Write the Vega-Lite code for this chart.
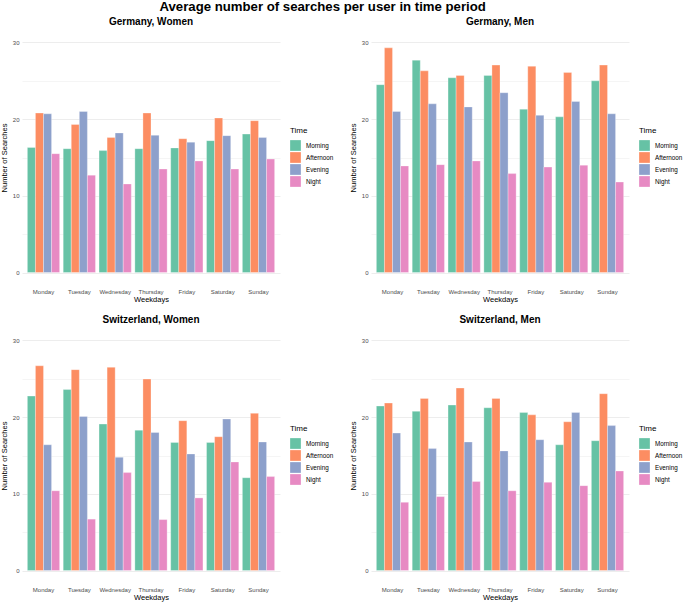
{
  "$schema": "https://vega.github.io/schema/vega-lite/v6.json",
  "background": "white",
  "padding": {"left": 0, "right": 0, "top": 0, "bottom": 2},
  "title": {"text": "Average number of searches per user in time period", "fontSize": 13.2, "fontWeight": "bold", "anchor": "middle", "frame": "bounds", "offset": 2.5, "color": "black", "dx": -19},
  "datasets": {
    "searches": [
      {"Panel": "Germany, Women", "Day": "Monday", "Time": "Morning", "Searches": 16.3},
      {"Panel": "Germany, Women", "Day": "Monday", "Time": "Afternoon", "Searches": 20.8},
      {"Panel": "Germany, Women", "Day": "Monday", "Time": "Evening", "Searches": 20.7},
      {"Panel": "Germany, Women", "Day": "Monday", "Time": "Night", "Searches": 15.5},
      {"Panel": "Germany, Women", "Day": "Tuesday", "Time": "Morning", "Searches": 16.15},
      {"Panel": "Germany, Women", "Day": "Tuesday", "Time": "Afternoon", "Searches": 19.3},
      {"Panel": "Germany, Women", "Day": "Tuesday", "Time": "Evening", "Searches": 21.0},
      {"Panel": "Germany, Women", "Day": "Tuesday", "Time": "Night", "Searches": 12.7},
      {"Panel": "Germany, Women", "Day": "Wednesday", "Time": "Morning", "Searches": 15.9},
      {"Panel": "Germany, Women", "Day": "Wednesday", "Time": "Afternoon", "Searches": 17.6},
      {"Panel": "Germany, Women", "Day": "Wednesday", "Time": "Evening", "Searches": 18.2},
      {"Panel": "Germany, Women", "Day": "Wednesday", "Time": "Night", "Searches": 11.55},
      {"Panel": "Germany, Women", "Day": "Thursday", "Time": "Morning", "Searches": 16.15},
      {"Panel": "Germany, Women", "Day": "Thursday", "Time": "Afternoon", "Searches": 20.8},
      {"Panel": "Germany, Women", "Day": "Thursday", "Time": "Evening", "Searches": 17.9},
      {"Panel": "Germany, Women", "Day": "Thursday", "Time": "Night", "Searches": 13.5},
      {"Panel": "Germany, Women", "Day": "Friday", "Time": "Morning", "Searches": 16.25},
      {"Panel": "Germany, Women", "Day": "Friday", "Time": "Afternoon", "Searches": 17.45},
      {"Panel": "Germany, Women", "Day": "Friday", "Time": "Evening", "Searches": 17.0},
      {"Panel": "Germany, Women", "Day": "Friday", "Time": "Night", "Searches": 14.55},
      {"Panel": "Germany, Women", "Day": "Saturday", "Time": "Morning", "Searches": 17.2},
      {"Panel": "Germany, Women", "Day": "Saturday", "Time": "Afternoon", "Searches": 20.15},
      {"Panel": "Germany, Women", "Day": "Saturday", "Time": "Evening", "Searches": 17.85},
      {"Panel": "Germany, Women", "Day": "Saturday", "Time": "Night", "Searches": 13.5},
      {"Panel": "Germany, Women", "Day": "Sunday", "Time": "Morning", "Searches": 18.05},
      {"Panel": "Germany, Women", "Day": "Sunday", "Time": "Afternoon", "Searches": 19.8},
      {"Panel": "Germany, Women", "Day": "Sunday", "Time": "Evening", "Searches": 17.6},
      {"Panel": "Germany, Women", "Day": "Sunday", "Time": "Night", "Searches": 14.8},

      {"Panel": "Germany, Men", "Day": "Monday", "Time": "Morning", "Searches": 24.5},
      {"Panel": "Germany, Men", "Day": "Monday", "Time": "Afternoon", "Searches": 29.3},
      {"Panel": "Germany, Men", "Day": "Monday", "Time": "Evening", "Searches": 21.0},
      {"Panel": "Germany, Men", "Day": "Monday", "Time": "Night", "Searches": 13.9},
      {"Panel": "Germany, Men", "Day": "Tuesday", "Time": "Morning", "Searches": 27.7},
      {"Panel": "Germany, Men", "Day": "Tuesday", "Time": "Afternoon", "Searches": 26.3},
      {"Panel": "Germany, Men", "Day": "Tuesday", "Time": "Evening", "Searches": 22.0},
      {"Panel": "Germany, Men", "Day": "Tuesday", "Time": "Night", "Searches": 14.07},
      {"Panel": "Germany, Men", "Day": "Wednesday", "Time": "Morning", "Searches": 25.4},
      {"Panel": "Germany, Men", "Day": "Wednesday", "Time": "Afternoon", "Searches": 25.7},
      {"Panel": "Germany, Men", "Day": "Wednesday", "Time": "Evening", "Searches": 21.6},
      {"Panel": "Germany, Men", "Day": "Wednesday", "Time": "Night", "Searches": 14.55},
      {"Panel": "Germany, Men", "Day": "Thursday", "Time": "Morning", "Searches": 25.7},
      {"Panel": "Germany, Men", "Day": "Thursday", "Time": "Afternoon", "Searches": 27.05},
      {"Panel": "Germany, Men", "Day": "Thursday", "Time": "Evening", "Searches": 23.45},
      {"Panel": "Germany, Men", "Day": "Thursday", "Time": "Night", "Searches": 12.9},
      {"Panel": "Germany, Men", "Day": "Friday", "Time": "Morning", "Searches": 21.3},
      {"Panel": "Germany, Men", "Day": "Friday", "Time": "Afternoon", "Searches": 26.9},
      {"Panel": "Germany, Men", "Day": "Friday", "Time": "Evening", "Searches": 20.5},
      {"Panel": "Germany, Men", "Day": "Friday", "Time": "Night", "Searches": 13.75},
      {"Panel": "Germany, Men", "Day": "Saturday", "Time": "Morning", "Searches": 20.3},
      {"Panel": "Germany, Men", "Day": "Saturday", "Time": "Afternoon", "Searches": 26.1},
      {"Panel": "Germany, Men", "Day": "Saturday", "Time": "Evening", "Searches": 22.3},
      {"Panel": "Germany, Men", "Day": "Saturday", "Time": "Night", "Searches": 14.0},
      {"Panel": "Germany, Men", "Day": "Sunday", "Time": "Morning", "Searches": 25.0},
      {"Panel": "Germany, Men", "Day": "Sunday", "Time": "Afternoon", "Searches": 27.05},
      {"Panel": "Germany, Men", "Day": "Sunday", "Time": "Evening", "Searches": 20.7},
      {"Panel": "Germany, Men", "Day": "Sunday", "Time": "Night", "Searches": 11.8},

      {"Panel": "Switzerland, Women", "Day": "Monday", "Time": "Morning", "Searches": 22.75},
      {"Panel": "Switzerland, Women", "Day": "Monday", "Time": "Afternoon", "Searches": 26.7},
      {"Panel": "Switzerland, Women", "Day": "Monday", "Time": "Evening", "Searches": 16.4},
      {"Panel": "Switzerland, Women", "Day": "Monday", "Time": "Night", "Searches": 10.4},
      {"Panel": "Switzerland, Women", "Day": "Tuesday", "Time": "Morning", "Searches": 23.6},
      {"Panel": "Switzerland, Women", "Day": "Tuesday", "Time": "Afternoon", "Searches": 26.2},
      {"Panel": "Switzerland, Women", "Day": "Tuesday", "Time": "Evening", "Searches": 20.1},
      {"Panel": "Switzerland, Women", "Day": "Tuesday", "Time": "Night", "Searches": 6.7},
      {"Panel": "Switzerland, Women", "Day": "Wednesday", "Time": "Morning", "Searches": 19.1},
      {"Panel": "Switzerland, Women", "Day": "Wednesday", "Time": "Afternoon", "Searches": 26.5},
      {"Panel": "Switzerland, Women", "Day": "Wednesday", "Time": "Evening", "Searches": 14.76},
      {"Panel": "Switzerland, Women", "Day": "Wednesday", "Time": "Night", "Searches": 12.77},
      {"Panel": "Switzerland, Women", "Day": "Thursday", "Time": "Morning", "Searches": 18.3},
      {"Panel": "Switzerland, Women", "Day": "Thursday", "Time": "Afternoon", "Searches": 24.97},
      {"Panel": "Switzerland, Women", "Day": "Thursday", "Time": "Evening", "Searches": 18.0},
      {"Panel": "Switzerland, Women", "Day": "Thursday", "Time": "Night", "Searches": 6.64},
      {"Panel": "Switzerland, Women", "Day": "Friday", "Time": "Morning", "Searches": 16.7},
      {"Panel": "Switzerland, Women", "Day": "Friday", "Time": "Afternoon", "Searches": 19.54},
      {"Panel": "Switzerland, Women", "Day": "Friday", "Time": "Evening", "Searches": 15.2},
      {"Panel": "Switzerland, Women", "Day": "Friday", "Time": "Night", "Searches": 9.47},
      {"Panel": "Switzerland, Women", "Day": "Saturday", "Time": "Morning", "Searches": 16.7},
      {"Panel": "Switzerland, Women", "Day": "Saturday", "Time": "Afternoon", "Searches": 17.45},
      {"Panel": "Switzerland, Women", "Day": "Saturday", "Time": "Evening", "Searches": 19.76},
      {"Panel": "Switzerland, Women", "Day": "Saturday", "Time": "Night", "Searches": 14.16},
      {"Panel": "Switzerland, Women", "Day": "Sunday", "Time": "Morning", "Searches": 12.1},
      {"Panel": "Switzerland, Women", "Day": "Sunday", "Time": "Afternoon", "Searches": 20.5},
      {"Panel": "Switzerland, Women", "Day": "Sunday", "Time": "Evening", "Searches": 16.76},
      {"Panel": "Switzerland, Women", "Day": "Sunday", "Time": "Night", "Searches": 12.25},

      {"Panel": "Switzerland, Men", "Day": "Monday", "Time": "Morning", "Searches": 21.45},
      {"Panel": "Switzerland, Men", "Day": "Monday", "Time": "Afternoon", "Searches": 21.84},
      {"Panel": "Switzerland, Men", "Day": "Monday", "Time": "Evening", "Searches": 17.93},
      {"Panel": "Switzerland, Men", "Day": "Monday", "Time": "Night", "Searches": 8.9},
      {"Panel": "Switzerland, Men", "Day": "Tuesday", "Time": "Morning", "Searches": 20.76},
      {"Panel": "Switzerland, Men", "Day": "Tuesday", "Time": "Afternoon", "Searches": 22.45},
      {"Panel": "Switzerland, Men", "Day": "Tuesday", "Time": "Evening", "Searches": 15.9},
      {"Panel": "Switzerland, Men", "Day": "Tuesday", "Time": "Night", "Searches": 9.64},
      {"Panel": "Switzerland, Men", "Day": "Wednesday", "Time": "Morning", "Searches": 21.58},
      {"Panel": "Switzerland, Men", "Day": "Wednesday", "Time": "Afternoon", "Searches": 23.8},
      {"Panel": "Switzerland, Men", "Day": "Wednesday", "Time": "Evening", "Searches": 16.76},
      {"Panel": "Switzerland, Men", "Day": "Wednesday", "Time": "Night", "Searches": 11.6},
      {"Panel": "Switzerland, Men", "Day": "Thursday", "Time": "Morning", "Searches": 21.23},
      {"Panel": "Switzerland, Men", "Day": "Thursday", "Time": "Afternoon", "Searches": 22.45},
      {"Panel": "Switzerland, Men", "Day": "Thursday", "Time": "Evening", "Searches": 15.6},
      {"Panel": "Switzerland, Men", "Day": "Thursday", "Time": "Night", "Searches": 10.4},
      {"Panel": "Switzerland, Men", "Day": "Friday", "Time": "Morning", "Searches": 20.6},
      {"Panel": "Switzerland, Men", "Day": "Friday", "Time": "Afternoon", "Searches": 20.3},
      {"Panel": "Switzerland, Men", "Day": "Friday", "Time": "Evening", "Searches": 17.06},
      {"Panel": "Switzerland, Men", "Day": "Friday", "Time": "Night", "Searches": 11.5},
      {"Panel": "Switzerland, Men", "Day": "Saturday", "Time": "Morning", "Searches": 16.4},
      {"Panel": "Switzerland, Men", "Day": "Saturday", "Time": "Afternoon", "Searches": 19.4},
      {"Panel": "Switzerland, Men", "Day": "Saturday", "Time": "Evening", "Searches": 20.6},
      {"Panel": "Switzerland, Men", "Day": "Saturday", "Time": "Night", "Searches": 11.07},
      {"Panel": "Switzerland, Men", "Day": "Sunday", "Time": "Morning", "Searches": 16.93},
      {"Panel": "Switzerland, Men", "Day": "Sunday", "Time": "Afternoon", "Searches": 23.06},
      {"Panel": "Switzerland, Men", "Day": "Sunday", "Time": "Evening", "Searches": 18.9},
      {"Panel": "Switzerland, Men", "Day": "Sunday", "Time": "Night", "Searches": 12.98}
    ]
  },
  "data": {"name": "searches"},
  "columns": 2,
  "spacing": {"row": 12, "column": 15},
  "resolve": {"scale": {"color": "independent", "x": "independent", "y": "independent"}, "legend": {"color": "independent"}},
  "concat": [
    {
      "title": {"text": "Germany, Women"},
      "width": 258, "height": 253,
      "transform": [{"filter": "datum.Panel === 'Germany, Women'"}],
      "mark": {"type": "bar", "stroke": "white", "strokeWidth": 0.3},
      "encoding": {
        "x": {"field": "Day", "type": "nominal", "sort": ["Monday", "Tuesday", "Wednesday", "Thursday", "Friday", "Saturday", "Sunday"], "scale": {"paddingInner": 0.1, "paddingOuter": 0.15}, "axis": {"title": "Weekdays"}},
        "xOffset": {"field": "Time", "type": "nominal", "sort": ["Morning", "Afternoon", "Evening", "Night"], "scale": {"paddingInner": 0, "paddingOuter": 0}},
        "y": {"field": "Searches", "type": "quantitative", "scale": {"domain": [-1.5, 31.5], "nice": false, "zero": false}, "axis": {"title": "Number of Searches", "values": [0, 5, 10, 15, 20, 25, 30], "labelExpr": "datum.value % 10 === 0 ? datum.label : ''", "gridWidth": {"expr": "datum.value % 10 === 0 ? 0.9 : 0.5"}}},
        "y2": {"datum": 0},
        "color": {"field": "Time", "type": "nominal", "sort": ["Morning", "Afternoon", "Evening", "Night"], "scale": {"domain": ["Morning", "Afternoon", "Evening", "Night"], "range": ["#66C2A5", "#FC8D62", "#8DA0CB", "#E78AC3"]}, "legend": {"title": "Time", "orient": "none", "legendX": 268, "legendY": 96}}
      }
    },
    {
      "title": {"text": "Germany, Men"},
      "width": 258, "height": 253,
      "transform": [{"filter": "datum.Panel === 'Germany, Men'"}],
      "mark": {"type": "bar", "stroke": "white", "strokeWidth": 0.3},
      "encoding": {
        "x": {"field": "Day", "type": "nominal", "sort": ["Monday", "Tuesday", "Wednesday", "Thursday", "Friday", "Saturday", "Sunday"], "scale": {"paddingInner": 0.1, "paddingOuter": 0.15}, "axis": {"title": "Weekdays"}},
        "xOffset": {"field": "Time", "type": "nominal", "sort": ["Morning", "Afternoon", "Evening", "Night"], "scale": {"paddingInner": 0, "paddingOuter": 0}},
        "y": {"field": "Searches", "type": "quantitative", "scale": {"domain": [-1.5, 31.5], "nice": false, "zero": false}, "axis": {"title": "Number of Searches", "values": [0, 5, 10, 15, 20, 25, 30], "labelExpr": "datum.value % 10 === 0 ? datum.label : ''", "gridWidth": {"expr": "datum.value % 10 === 0 ? 0.9 : 0.5"}}},
        "y2": {"datum": 0},
        "color": {"field": "Time", "type": "nominal", "sort": ["Morning", "Afternoon", "Evening", "Night"], "scale": {"domain": ["Morning", "Afternoon", "Evening", "Night"], "range": ["#66C2A5", "#FC8D62", "#8DA0CB", "#E78AC3"]}, "legend": {"title": "Time", "orient": "none", "legendX": 268, "legendY": 96}}
      }
    },
    {
      "title": {"text": "Switzerland, Women"},
      "width": 258, "height": 253,
      "transform": [{"filter": "datum.Panel === 'Switzerland, Women'"}],
      "mark": {"type": "bar", "stroke": "white", "strokeWidth": 0.3},
      "encoding": {
        "x": {"field": "Day", "type": "nominal", "sort": ["Monday", "Tuesday", "Wednesday", "Thursday", "Friday", "Saturday", "Sunday"], "scale": {"paddingInner": 0.1, "paddingOuter": 0.15}, "axis": {"title": "Weekdays"}},
        "xOffset": {"field": "Time", "type": "nominal", "sort": ["Morning", "Afternoon", "Evening", "Night"], "scale": {"paddingInner": 0, "paddingOuter": 0}},
        "y": {"field": "Searches", "type": "quantitative", "scale": {"domain": [-1.5, 31.5], "nice": false, "zero": false}, "axis": {"title": "Number of Searches", "values": [0, 5, 10, 15, 20, 25, 30], "labelExpr": "datum.value % 10 === 0 ? datum.label : ''", "gridWidth": {"expr": "datum.value % 10 === 0 ? 0.9 : 0.5"}}},
        "y2": {"datum": 0},
        "color": {"field": "Time", "type": "nominal", "sort": ["Morning", "Afternoon", "Evening", "Night"], "scale": {"domain": ["Morning", "Afternoon", "Evening", "Night"], "range": ["#66C2A5", "#FC8D62", "#8DA0CB", "#E78AC3"]}, "legend": {"title": "Time", "orient": "none", "legendX": 268, "legendY": 96}}
      }
    },
    {
      "title": {"text": "Switzerland, Men"},
      "width": 258, "height": 253,
      "transform": [{"filter": "datum.Panel === 'Switzerland, Men'"}],
      "mark": {"type": "bar", "stroke": "white", "strokeWidth": 0.3},
      "encoding": {
        "x": {"field": "Day", "type": "nominal", "sort": ["Monday", "Tuesday", "Wednesday", "Thursday", "Friday", "Saturday", "Sunday"], "scale": {"paddingInner": 0.1, "paddingOuter": 0.15}, "axis": {"title": "Weekdays"}},
        "xOffset": {"field": "Time", "type": "nominal", "sort": ["Morning", "Afternoon", "Evening", "Night"], "scale": {"paddingInner": 0, "paddingOuter": 0}},
        "y": {"field": "Searches", "type": "quantitative", "scale": {"domain": [-1.5, 31.5], "nice": false, "zero": false}, "axis": {"title": "Number of Searches", "values": [0, 5, 10, 15, 20, 25, 30], "labelExpr": "datum.value % 10 === 0 ? datum.label : ''", "gridWidth": {"expr": "datum.value % 10 === 0 ? 0.9 : 0.5"}}},
        "y2": {"datum": 0},
        "color": {"field": "Time", "type": "nominal", "sort": ["Morning", "Afternoon", "Evening", "Night"], "scale": {"domain": ["Morning", "Afternoon", "Evening", "Night"], "range": ["#66C2A5", "#FC8D62", "#8DA0CB", "#E78AC3"]}, "legend": {"title": "Time", "orient": "none", "legendX": 268, "legendY": 96}}
      }
    }
  ],
  "config": {
    "font": "Liberation Sans",
    "view": {"stroke": null},
    "title": {"fontSize": 10, "fontWeight": "bold", "anchor": "middle", "frame": "group", "offset": 4, "color": "black"},
    "axis": {"domain": false, "ticks": false, "labelColor": "#4d4d4d", "labelFontSize": 6, "titleFontSize": 7.5, "titleFontWeight": "normal", "titleColor": "black", "gridColor": "#ebebeb", "gridWidth": 0.9},
    "axisX": {"labelPadding": 4, "titlePadding": 1, "labelAngle": 0, "bandPosition": 0.5},
    "axisY": {"labelPadding": 3, "titlePadding": 4},
    "legend": {"titleFontSize": 8, "titleFontWeight": "normal", "titleColor": "black", "labelFontSize": 6.3, "labelColor": "black", "symbolType": "square", "symbolSize": 115, "symbolStrokeWidth": 0, "symbolOpacity": 1, "rowPadding": 1, "labelOffset": 5, "titlePadding": 5}
  }
}
